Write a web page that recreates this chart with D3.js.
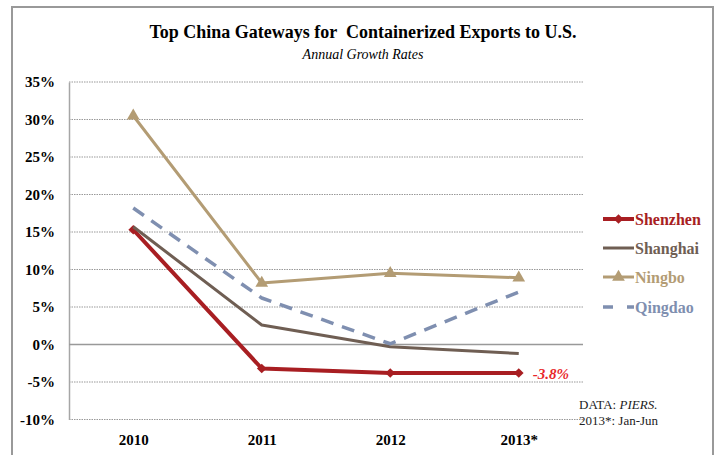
<!DOCTYPE html>
<head><style>body { margin: 0; background: #fff; } svg { display: block; } text { white-space: pre; }</style></head>
<body>
    <div class="container"></div>
    <script src="https://d3js.org/d3.v7.min.js"></script>
    <script>
        var years = ['2010', '2011', '2012', '2013*'];
        var yTicks = [-10, -5, 0, 5, 10, 15, 20, 25, 30, 35];
        var shenzhen = [15.3, -3.2, -3.8, -3.8];
        var shanghai = [15.7, 2.6, -0.3, -1.2];
        var ningbo = [30.5, 8.2, 9.5, 8.9];
        var qingdao = [18.2, 6.2, 0.1, 7.0];
        var seriesNames = ['Shenzhen', 'Shanghai', 'Ningbo', 'Qingdao'];

        var series = [
            {name: seriesNames[0], values: shenzhen, color: '#a81e22', width: 4, dash: null, marker: 'diamond'},
            {name: seriesNames[1], values: shanghai, color: '#6f5e53', width: 3, dash: null, marker: null},
            {name: seriesNames[2], values: ningbo, color: '#b39c74', width: 3, dash: null, marker: 'triangle'},
            {name: seriesNames[3], values: qingdao, color: '#7f8fb0', width: 3.5, dash: '13,9', marker: null}
        ];

        var serif = "'Liberation Serif', Tinos, 'Times New Roman', Times, 'DejaVu Serif', serif";

        var svg = d3.select('.container')
                    .append('svg')
                    .attr('width', 715)
                    .attr('height', 455);

        // outer frame (open at the bottom)
        svg.append('path')
           .attr('d', 'M12,460 L12,7 L713,7 L713,460')
           .attr('fill', 'none')
           .attr('stroke', '#999')
           .attr('stroke-width', 2);

        svg.append('text')
           .attr('x', 363).attr('y', 38)
           .attr('text-anchor', 'middle')
           .attr('font-family', serif)
           .attr('font-weight', 'bold')
           .attr('font-size', 18)
           .text('Top China Gateways for  Containerized Exports to U.S.');
        svg.append('text')
           .attr('x', 363).attr('y', 59)
           .attr('text-anchor', 'middle')
           .attr('font-family', serif)
           .attr('font-style', 'italic')
           .attr('font-size', 14)
           .text('Annual Growth Rates');

        var x = d3.scalePoint().domain(years).range([69, 583]).padding(0.5);
        var y = d3.scaleLinear().domain([-10, 35]).range([419.5, 82]);

        // gridlines
        svg.append('g').selectAll('line')
           .data(yTicks.filter(function (d) { return d !== 0; }))
           .join('line')
           .attr('x1', 69).attr('x2', 583)
           .attr('y1', function (d) { return y(d); })
           .attr('y2', function (d) { return y(d); })
           .attr('stroke', '#999')
           .attr('stroke-width', 1)
           .attr('stroke-dasharray', '1.5,1');

        var yaxis = svg.append('g')
                       .attr('transform', 'translate(69,0)')
                       .call(d3.axisLeft(y).tickValues(yTicks).tickSize(0).tickPadding(14)
                               .tickFormat(function (d) { return d + '%'; }));
        yaxis.attr('font-family', serif).attr('font-size', 15).attr('font-weight', 'bold');
        yaxis.select('.domain').attr('stroke', '#a6a6a6').attr('stroke-width', 1.5);
        yaxis.selectAll('text').attr('fill', '#000');

        // zero line
        svg.append('line')
           .attr('x1', 69).attr('x2', 583)
           .attr('y1', y(0)).attr('y2', y(0))
           .attr('stroke', '#999').attr('stroke-width', 1.5);

        var xaxis = svg.append('g')
                       .attr('transform', 'translate(0,' + y(-10) + ')')
                       .call(d3.axisBottom(x).tickSize(0).tickPadding(15));
        xaxis.attr('font-family', serif).attr('font-size', 15).attr('font-weight', 'bold');
        xaxis.select('.domain').remove();
        xaxis.selectAll('text').attr('fill', '#000');

        var line = d3.line()
                     .x(function (d, i) { return x(years[i]); })
                     .y(function (d) { return y(d); });

        var diamond = d3.symbol().type(d3.symbolDiamond2).size(60);
        var triangle = d3.symbol().type(d3.symbolTriangle).size(70);

        series.forEach(function (s) {
            svg.append('path')
               .attr('d', line(s.values))
               .attr('fill', 'none')
               .attr('stroke', s.color)
               .attr('stroke-width', s.width)
               .attr('stroke-linejoin', 'round')
               .attr('stroke-dasharray', s.dash);
            if (s.marker) {
                svg.append('g').selectAll('path')
                   .data(s.values)
                   .join('path')
                   .attr('transform', function (d, i) { return 'translate(' + x(years[i]) + ',' + y(d) + ')'; })
                   .attr('d', s.marker === 'diamond' ? diamond : triangle)
                   .attr('fill', s.color);
            }
        });

        // legend
        var legendY = [219, 248, 277, 307];
        series.forEach(function (s, i) {
            var g = svg.append('g').attr('transform', 'translate(603,' + legendY[i] + ')');
            g.append('line')
             .attr('x1', 0).attr('x2', 31)
             .attr('stroke', s.color)
             .attr('stroke-width', s.width)
             .attr('stroke-dasharray', s.dash ? '10,14' : null);
            if (s.marker) {
                g.append('path')
                 .attr('transform', 'translate(15.5,0)')
                 .attr('d', s.marker === 'diamond' ? diamond : triangle)
                 .attr('fill', s.color);
            }
            g.append('text')
             .attr('x', 32).attr('y', 6)
             .attr('font-family', serif)
             .attr('font-weight', 'bold')
             .attr('font-size', 16)
             .attr('fill', s.color)
             .text(s.name);
        });

        svg.append('text')
           .attr('x', x(years[3]) + 14).attr('y', y(shenzhen[3]) + 6)
           .attr('font-family', serif)
           .attr('font-weight', 'bold')
           .attr('font-style', 'italic')
           .attr('font-size', 15)
           .attr('fill', '#e8262a')
           .text('-3.8%');

        var note = svg.append('text')
                      .attr('x', 579).attr('y', 409)
                      .attr('font-family', serif)
                      .attr('font-size', 13)
                      .attr('fill', '#222');
        note.append('tspan').text('DATA: ');
        note.append('tspan').attr('font-style', 'italic').text('PIERS.');
        svg.append('text')
           .attr('x', 579).attr('y', 425)
           .attr('font-family', serif)
           .attr('font-size', 13)
           .attr('fill', '#222')
           .text('2013*: Jan-Jun');
    </script>
</body>
